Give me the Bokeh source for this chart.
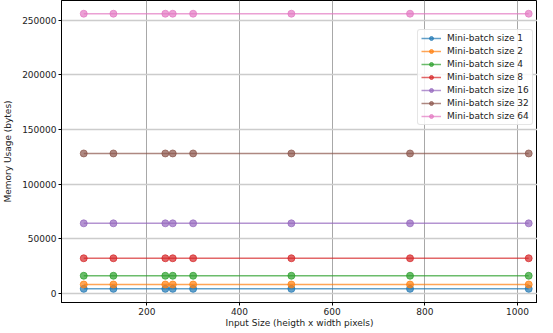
from bokeh.plotting import figure
from bokeh.models import FixedTicker, NumeralTickFormatter, Range1d
from bokeh.embed import file_html
from bokeh.resources import INLINE

input_sizes = [64, 128, 240, 256, 300, 512, 768, 1024]
batch_sizes = [1, 2, 4, 8, 16, 32, 64]
mem_b1 = [4000] * 8
mem_b2 = [8000] * 8
mem_b4 = [16000] * 8
mem_b8 = [32000] * 8
mem_b16 = [64000] * 8
mem_b32 = [128000] * 8
mem_b64 = [256000] * 8
series = [mem_b1, mem_b2, mem_b4, mem_b8, mem_b16, mem_b32, mem_b64]
colors = ["#1f77b4", "#ff7f0e", "#2ca02c", "#d62728", "#9467bd", "#8c564b", "#e377c2"]
x_ticks = [200, 400, 600, 800, 1000]
y_ticks = [0, 50000, 100000, 150000, 200000, 250000]

FONT = "DejaVu Sans"

p = figure(width=537, height=330, output_backend="svg", toolbar_location=None,
           x_range=Range1d(16, 1043), y_range=Range1d(-8500, 268100),
           min_border_left=54, min_border_right=0, min_border_top=0, min_border_bottom=0)

for bs, vals, c in zip(batch_sizes, series, colors):
    lbl = f"Mini-batch size {bs}"
    p.line(input_sizes, vals, line_color=c, line_width=1.5, line_alpha=0.7, legend_label=lbl)
    p.scatter(input_sizes, vals, size=7, fill_color=c, line_color=c, fill_alpha=0.7,
              line_alpha=0.7, legend_label=lbl)

p.outline_line_color = "black"
p.outline_line_width = 1
p.xgrid.grid_line_color = "#a8a8a8"
p.xgrid.grid_line_width = 1
p.ygrid.grid_line_color = "#cccccc"
p.ygrid.grid_line_width = 1.5
p.xaxis.ticker = FixedTicker(ticks=x_ticks)
p.yaxis.ticker = FixedTicker(ticks=y_ticks)
p.yaxis.formatter = NumeralTickFormatter(format="0")
for ax in (p.xaxis[0], p.yaxis[0]):
    ax.axis_line_color = "black"
    ax.major_tick_line_color = "black"
    ax.major_tick_in = 0
    ax.major_tick_out = 3
    ax.minor_tick_line_color = None
    ax.major_label_text_font = FONT
    ax.major_label_text_font_size = "9px"
    ax.major_label_text_color = "#222222"
    ax.axis_label_text_font = FONT
    ax.axis_label_text_font_size = "9px"
    ax.axis_label_text_font_style = "normal"
    ax.axis_label_text_color = "#222222"
    ax.major_label_standoff = 2
p.xaxis.axis_label = "Input Size (heigth x width pixels)"
p.yaxis.axis_label = "Memory Usage (bytes)"
p.xaxis.axis_label_standoff = 0
p.yaxis.axis_label_standoff = 6

lg = p.legend[0]
lg.location = (356, 177)
lg.label_text_font = FONT
lg.label_text_font_size = "9px"
lg.label_text_color = "#222222"
lg.label_height = 10
lg.glyph_height = 10
lg.glyph_width = 20
lg.spacing = 3
lg.padding = 3
lg.margin = 0
lg.label_standoff = 6
lg.border_line_color = "#cccccc"
lg.border_line_width = 1
lg.background_fill_alpha = 0.85
lg.border_radius = 3

open("out.html", "w").write(file_html(p, INLINE))
